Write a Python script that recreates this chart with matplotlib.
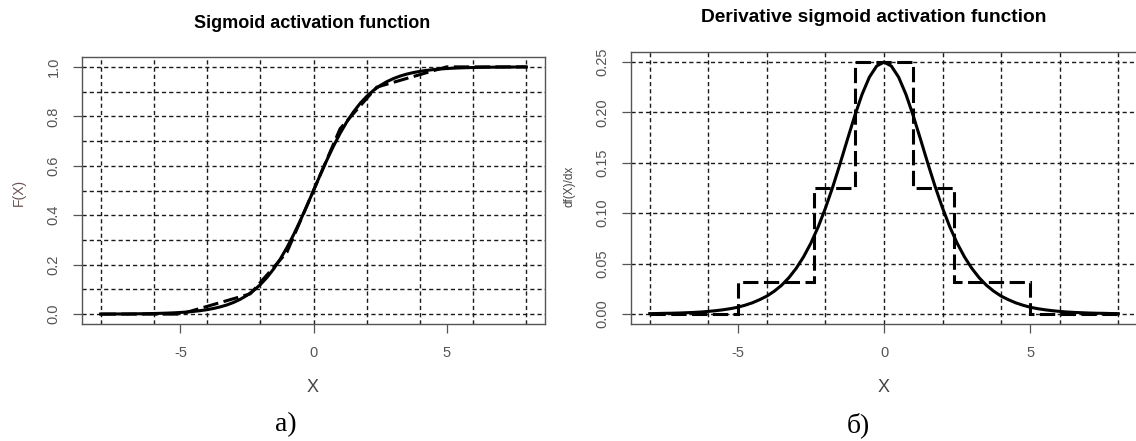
import numpy as np
import matplotlib
matplotlib.use("Agg")
import matplotlib.pyplot as plt

# ---------------- data ----------------
x_vals = np.arange(-8, 8.001, 0.25)
sigmoid_vals = [
    0.0003, 0.0004, 0.0006, 0.0007, 0.0009, 0.0012, 0.0015, 0.0019,
    0.0025, 0.0032, 0.0041, 0.0052, 0.0067, 0.0086, 0.0110, 0.0141,
    0.0180, 0.0230, 0.0293, 0.0373, 0.0474, 0.0601, 0.0759, 0.0953,
    0.1192, 0.1480, 0.1824, 0.2227, 0.2689, 0.3208, 0.3775, 0.4378,
    0.5000,
    0.5622, 0.6225, 0.6792, 0.7311, 0.7773, 0.8176, 0.8520, 0.8808,
    0.9047, 0.9241, 0.9399, 0.9526, 0.9627, 0.9707, 0.9770, 0.9820,
    0.9859, 0.9890, 0.9914, 0.9933, 0.9948, 0.9959, 0.9968, 0.9975,
    0.9981, 0.9985, 0.9988, 0.9991, 0.9993, 0.9994, 0.9996, 0.9997,
]
deriv_vals = [
    0.0003, 0.0004, 0.0006, 0.0007, 0.0009, 0.0012, 0.0015, 0.0019,
    0.0025, 0.0032, 0.0041, 0.0052, 0.0066, 0.0086, 0.0110, 0.0141,
    0.0177, 0.0225, 0.0284, 0.0359, 0.0452, 0.0565, 0.0701, 0.0862,
    0.1050, 0.1261, 0.1491, 0.1731, 0.1966, 0.2179, 0.2350, 0.2461,
    0.2500,
    0.2461, 0.2350, 0.2179, 0.1966, 0.1731, 0.1491, 0.1261, 0.1050,
    0.0862, 0.0701, 0.0565, 0.0452, 0.0359, 0.0284, 0.0225, 0.0177,
    0.0141, 0.0110, 0.0086, 0.0066, 0.0052, 0.0041, 0.0032, 0.0025,
    0.0019, 0.0015, 0.0012, 0.0009, 0.0007, 0.0006, 0.0004, 0.0003,
]
# piecewise-linear approximation of the sigmoid
approx_x = [-8, -5, -2.375, -1, 0, 1, 2.375, 5, 8]
approx_y = [0.0, 0.0, 0.082, 0.25, 0.5, 0.75, 0.918, 1.0, 1.0]
# step approximation of the derivative
step_edges = [-8, -5, -2.375, -1, 1, 2.375, 5, 8]
step_vals = [0.0, 0.03125, 0.125, 0.25, 0.125, 0.03125, 0.0]

left_xticks = [-5, 0, 5]
left_yticks = [0.0, 0.2, 0.4, 0.6, 0.8, 1.0]
left_ytick_labels = ["0.0", "0.2", "0.4", "0.6", "0.8", "1.0"]
left_grid_y = [0.0, 0.1, 0.2, 0.3, 0.4, 0.5, 0.6, 0.7, 0.8, 0.9, 1.0]
right_yticks = [0.0, 0.05, 0.10, 0.15, 0.20, 0.25]
right_ytick_labels = ["0.00", "0.05", "0.10", "0.15", "0.20", "0.25"]
grid_x = [-8, -6, -4, -2, 0, 2, 4, 6, 8]

title_left = "Sigmoid activation function"
title_right = "Derivative sigmoid activation function"

# ---------------- figure ----------------
plt.rcParams['font.family'] = ['Liberation Sans', 'DejaVu Sans']
W, H = 1136, 441
fig = plt.figure(figsize=(W / 100, H / 100), dpi=100)


def px_axes(x0, y0, x1, y1):
    return fig.add_axes([x0 / W, 1 - y1 / H, (x1 - x0) / W, (y1 - y0) / H])


axL = px_axes(82, 57, 545, 324)
axR = px_axes(631, 52, 1137, 324)

TICK_COL = '#555555'
GRID_KW = dict(color='#1a1a1a', lw=1.0, ls=(0, (3, 2.2)), zorder=1)


def style(ax, xt, yt, ytl, gy):
    for g in grid_x:
        ax.axvline(g, **GRID_KW)
    for g in gy:
        ax.axhline(g, **GRID_KW)
    ax.set_xticks(xt)
    ax.set_xticklabels([str(v) for v in xt])
    ax.set_yticks(yt)
    ax.set_yticklabels(ytl, rotation=90, va='center')
    ax.tick_params(direction='out', length=6.5, width=0.9, color=TICK_COL,
                   labelcolor=TICK_COL, labelsize=10.5, pad=9)
    for s in ax.spines.values():
        s.set_color(TICK_COL)
        s.set_linewidth(1.0)


# left panel
axL.plot(x_vals, sigmoid_vals, color='black', lw=2.2, zorder=3)
axL.plot(approx_x, approx_y, color='black', lw=2.2, ls=(0, (5, 1.8)), zorder=3)
axL.set_xlim(-8.7, 8.7)
axL.set_ylim(-0.04, 1.04)
style(axL, left_xticks, left_yticks, left_ytick_labels, left_grid_y)

# right panel
axR.plot(x_vals, deriv_vals, color='black', lw=2.2, zorder=3)
axR.stairs(step_vals, step_edges, baseline=None, color='black', lw=2.2,
           ls=(0, (5, 1.8)), zorder=3)
axR.set_xlim(-8.64, 8.64)
axR.set_ylim(-0.01, 0.26)
style(axR, left_xticks, right_yticks, right_ytick_labels, right_yticks)

# titles
fig.text(312 / W, 1 - 23 / H, title_left, ha='center', va='center',
         fontsize=13, fontweight='bold')
fig.text(874 / W, 1 - 18 / H, title_right, ha='center', va='center',
         fontsize=13.8, fontweight='bold')

# axis labels
fig.text(313 / W, 1 - 387 / H, "X", ha='center', va='center', fontsize=13, color='#444444')
fig.text(884 / W, 1 - 387 / H, "X", ha='center', va='center', fontsize=13, color='#444444')
fig.text(19 / W, 1 - 192 / H, "F(X)", ha='center', va='center', rotation=90,
         fontsize=10, color='#6b5555')
fig.text(569 / W, 1 - 186 / H, "df(X)/dx", ha='center', va='center', rotation=90,
         fontsize=8.5, color='#444444')

# captions
fig.text(286 / W, 1 - 425 / H, "а)", ha='center', va='center', fontsize=20,
         family=['Liberation Serif', 'DejaVu Serif'])
fig.text(858 / W, 1 - 425 / H, "б)", ha='center', va='center', fontsize=20,
         family=['Liberation Serif', 'DejaVu Serif'])

fig.savefig("out.png", dpi=100)
